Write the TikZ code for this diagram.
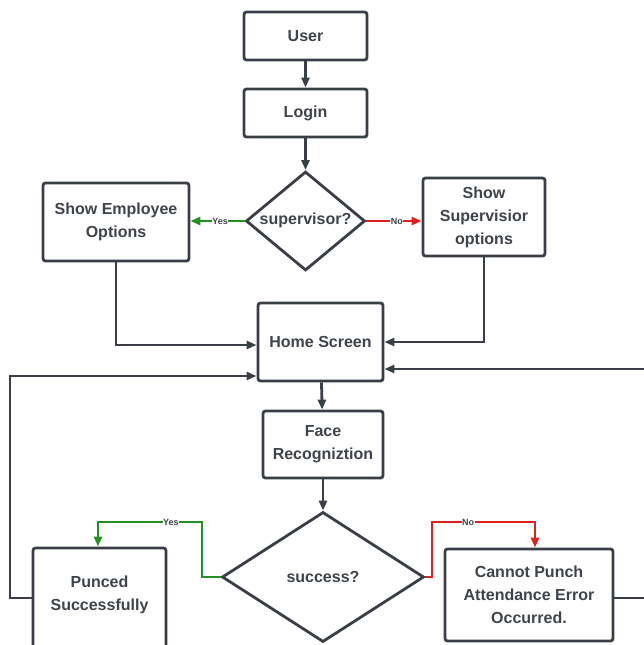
\documentclass[tikz,border=0pt]{standalone}
\usepackage{fontspec}
\setmainfont{Liberation Sans}
\usetikzlibrary{shapes.geometric,arrows.meta,calc}
\definecolor{ink}{HTML}{3A3E46}
\definecolor{txt}{HTML}{3F434A}
\definecolor{gline}{HTML}{239123}
\definecolor{rline}{HTML}{E0201E}
\begin{document}
\begin{tikzpicture}[x=1pt,y=-1pt,
  box/.style={draw=ink,line width=2.8pt,rounded corners=2.5pt,fill=white,inner sep=0pt,align=center,
     font=\fontsize{16}{23}\selectfont\bfseries,text=txt},
  dia/.style={draw=ink,line width=2.8pt,shape=diamond,inner sep=0pt,fill=white},
  dtext/.style={font=\fontsize{16}{22}\selectfont\bfseries,text=txt},
  conn/.style={draw=ink,line width=2.8pt,-{Triangle[length=10pt,width=8pt]}},
  yesl/.style={draw=gline,line width=2.8pt,-{Triangle[length=10pt,width=8pt]}},
  nol/.style={draw=rline,line width=2.8pt,-{Triangle[length=10pt,width=8pt]}},
  lab/.style={fill=white,inner sep=0.5pt,font=\fontsize{9}{10}\selectfont\bfseries,text=txt}
]
\useasboundingbox (0,0) rectangle (643,645);
\node[box,minimum width=123,minimum height=48] (user) at (305.5,36) {User};
\node[box,minimum width=123,minimum height=48] (login) at (305.5,113) {Login};
\node[dia,minimum width=119,minimum height=99] (sup) at (305.5,221) {};
\node[dtext] (suptxt) at (305.5,220) {supervisor?};
\node[box,minimum width=146,minimum height=78] (emp) at (116,222) {Show Employee\\Options};
\node[box,minimum width=122,minimum height=78] (sbox) at (484,217) {Show\\Supervisior\\options};
\node[box,minimum width=125,minimum height=78] (home) at (320.5,342) {Home Screen};
\node[box,minimum width=120,minimum height=67] (face) at (323,444.5) {Face\\Recogniztion};
\node[dia,minimum width=202,minimum height=130] (succ) at (323,577) {};
\node[dtext] (succtxt) at (323,577) {success?};
\node[box,minimum width=133,minimum height=100] (pun) at (99.5,598) {};
\node[box,minimum width=133,minimum height=0,draw=none,fill=none] (puntxt) at (99.5,595) {Punced\\Successfully};
\node[box,minimum width=168,minimum height=92] (cant) at (529,595) {Cannot Punch\\Attendance Error\\Occurred.};
\coordinate (rloop) at (652,598);

\draw[conn] (user) -- (login);
\draw[conn] (login) -- (sup);
\draw[yesl] (sup.west) -- node[lab,pos=0.45] {Yes} (emp.east |- sup.west);
\draw[nol] (sup.east) -- node[lab,pos=0.55] {No} (sbox.west |- sup.east);
\draw[conn] (emp.south) |- ($(home.west)+(0,3)$);
\draw[conn] (sbox.south) |- (home.east);
\draw[conn] (home) -- (face);
\draw[conn] (face) -- (succ);
\draw[yesl] (succ.west) -- (202,577) -- (202,522) -- node[lab,pos=0.3] {Yes} (98,522) -- (pun.north -| 98,0);
\draw[nol] (succ.east) -- (432,577) -- (432,522) -- node[lab,pos=0.35] {No} (535,522) -- (cant.north -| 535,0);
\draw[conn] (pun.west) -- (10,598) -- (10,376) -- ($(home.west)+(0,34)$);
\draw[conn] (cant.east |- rloop) -- (rloop) -- (652,369) -- ($(home.east)+(0,27)$);
\end{tikzpicture}
\end{document}
